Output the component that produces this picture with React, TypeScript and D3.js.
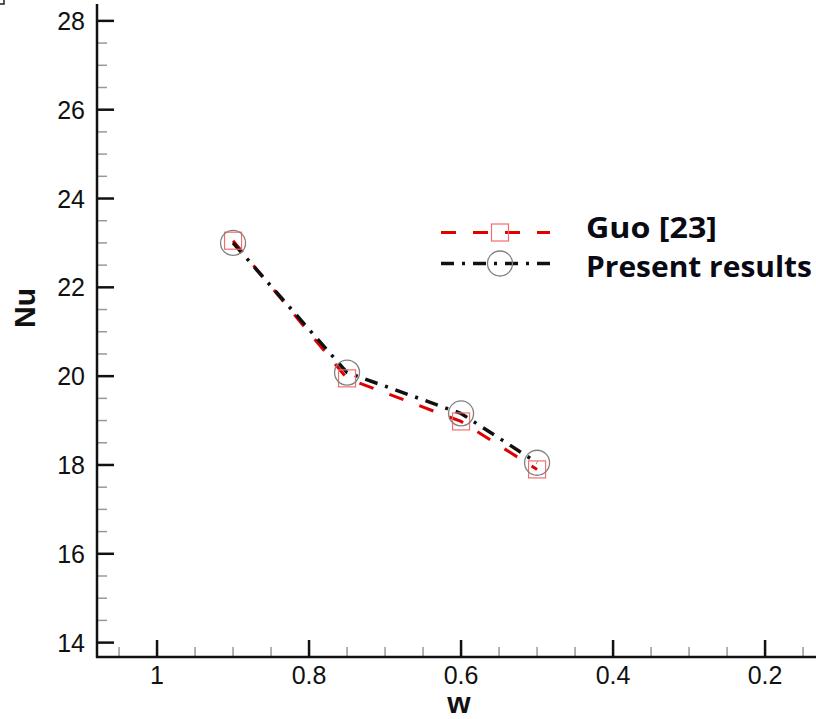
import React from "react";
import * as d3 from "d3";

const wValues = [0.9, 0.75, 0.6, 0.5];
const guoNu = [23.05, 19.95, 18.98, 17.9];
const presentNu = [23.0, 20.08, 19.16, 18.05];
const xMajorTicks = [1, 0.8, 0.6, 0.4, 0.2];
const xTickLabels = ["1", "0.8", "0.6", "0.4", "0.2"];
const xMinorTicks = [1.05, 0.95, 0.9, 0.85, 0.75, 0.7, 0.65, 0.55, 0.5, 0.45, 0.35, 0.3, 0.25, 0.15];
const yMajorTicks = [14, 16, 18, 20, 22, 24, 26, 28];
const yMinorTicks = [14.5, 15, 15.5, 16.5, 17, 17.5, 18.5, 19, 19.5, 20.5, 21, 21.5, 22.5, 23, 23.5, 24.5, 25, 25.5, 26.5, 27, 27.5];
const seriesNames = ["Guo [23]", "Present results"];

const W = 816;
const H = 719;
const left = 97;
const bottom = 657;
const top = 4;

export default function App() {
  const x = d3.scaleLinear().domain([1.079, 0.133]).range([left, W]);
  const y = d3.scaleLinear().domain([13.676, 28.38]).range([bottom, top]);
  const line = d3
    .line<[number, number]>()
    .x((d) => x(d[0]))
    .y((d) => y(d[1]));
  const guoPts: [number, number][] = wValues.map((w, i) => [w, guoNu[i]]);
  const presPts: [number, number][] = wValues.map((w, i) => [w, presentNu[i]]);
  const tickFont = "'Liberation Sans', Arial, sans-serif";
  const legendFont = "'Open Sans', Lato, sans-serif";
  const sq = 17;

  return (
    <div style={{ position: "fixed", left: 0, top: 0, width: W, height: H, background: "#fff" }}>
      <svg width={W} height={H} style={{ display: "block" }}>
        <rect x={0} y={0} width={W} height={H} fill="#fff" />
        {/* tiny corner mark */}
        <path d="M0,4 H4 V0" stroke="#222" strokeWidth={1.5} fill="none" />

        {/* minor ticks */}
        {yMinorTicks.map((t) => (
          <line key={"ym" + t} x1={left} x2={left + 10} y1={y(t)} y2={y(t)} stroke="#999" strokeWidth={1.5} />
        ))}
        {xMinorTicks.map((t) => (
          <line key={"xm" + t} x1={x(t)} x2={x(t)} y1={bottom} y2={bottom - 10} stroke="#999" strokeWidth={1.5} />
        ))}
        {/* major ticks */}
        {yMajorTicks.map((t) => (
          <g key={"y" + t}>
            <line x1={left} x2={left + 17} y1={y(t)} y2={y(t)} stroke="#111" strokeWidth={2.5} />
            <text x={left - 12} y={y(t)} dy="0.36em" textAnchor="end" fontFamily={tickFont} fontSize={25} fill="#111">
              {t}
            </text>
          </g>
        ))}
        {xMajorTicks.map((t, i) => (
          <g key={"x" + t}>
            <line x1={x(t)} x2={x(t)} y1={bottom} y2={bottom - 17} stroke="#111" strokeWidth={2.5} />
            <text x={x(t)} y={684} textAnchor="middle" fontFamily={tickFont} fontSize={25} fill="#111">
              {xTickLabels[i]}
            </text>
          </g>
        ))}
        {/* axes */}
        <line x1={left} x2={left} y1={top} y2={bottom + 1} stroke="#111" strokeWidth={2.5} />
        <line x1={left - 1} x2={W} y1={bottom} y2={bottom} stroke="#111" strokeWidth={2.5} />

        {/* axis titles */}
        <text
          transform={`translate(35,308) rotate(-90)`}
          textAnchor="middle"
          fontFamily={tickFont}
          fontWeight="bold"
          fontSize={30}
          fill="#111"
        >
          Nu
        </text>
        <text x={459} y={713} textAnchor="middle" fontFamily={tickFont} fontWeight="bold" fontSize={30} fill="#111">
          w
        </text>

        {/* series lines */}
        <path d={line(guoPts) || ""} fill="none" stroke="#e00000" strokeWidth={3} strokeDasharray="15 17" />
        <path d={line(presPts) || ""} fill="none" stroke="#111" strokeWidth={3.5} strokeDasharray="13 8 3 8" />
        {guoPts.map((p, i) => (
          <rect
            key={"sq" + i}
            x={x(p[0]) - sq / 2}
            y={y(p[1]) - sq / 2}
            width={sq}
            height={sq}
            fill="none"
            stroke="#f07070"
            strokeWidth={1.2}
          />
        ))}
        {presPts.map((p, i) => (
          <circle key={"c" + i} cx={x(p[0])} cy={y(p[1])} r={12.5} fill="none" stroke="#808080" strokeWidth={1.3} />
        ))}

        {/* legend */}
        <line x1={441} x2={550} y1={232.5} y2={232.5} stroke="#e00000" strokeWidth={3} strokeDasharray="15 17" />
        <rect x={500 - sq / 2} y={232.5 - sq / 2} width={sq} height={sq} fill="none" stroke="#f07070" strokeWidth={1.2} />
        <line x1={441} x2={558} y1={263.5} y2={263.5} stroke="#111" strokeWidth={3.5} strokeDasharray="13 8 3 8" />
        <circle cx={500} cy={263.5} r={12.5} fill="none" stroke="#808080" strokeWidth={1.3} />
        <text
          x={586}
          y={238}
          fontFamily={legendFont}
          fontWeight="bold"
          fontSize={28}
          fill="#0a0a14"
          textLength={131}
          lengthAdjust="spacingAndGlyphs"
        >
          {seriesNames[0]}
        </text>
        <text
          x={586}
          y={277}
          fontFamily={legendFont}
          fontWeight="bold"
          fontSize={28}
          fill="#0a0a14"
          textLength={226}
          lengthAdjust="spacingAndGlyphs"
        >
          {seriesNames[1]}
        </text>
      </svg>
    </div>
  );
}
